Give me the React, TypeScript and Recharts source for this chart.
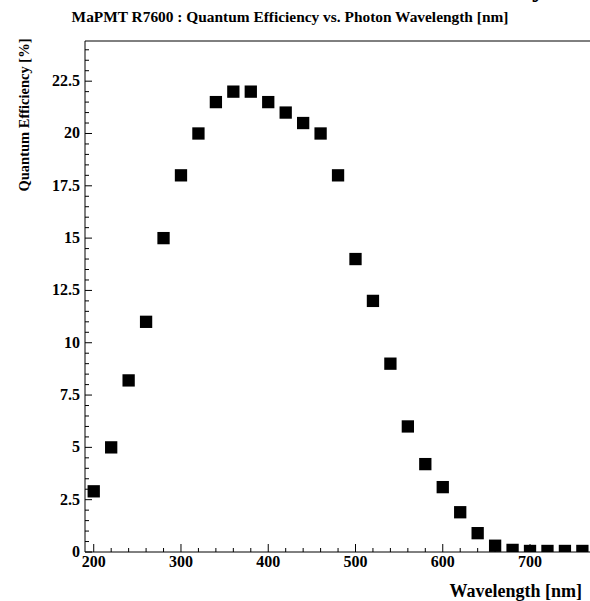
import { ScatterChart, Scatter, XAxis, YAxis, ReferenceLine } from "recharts";

// MaPMT R7600 quantum efficiency
const wavelengths = [
  200, 220, 240, 260, 280, 300, 320, 340, 360, 380, 400, 420, 440, 460, 480,
  500, 520, 540, 560, 580, 600, 620, 640, 660, 680, 700, 720, 740, 760,
];
const efficiency = [
  2.9, 5, 8.2, 11, 15, 18, 20, 21.5, 22, 22, 21.5, 21, 20.5, 20, 18,
  14, 12, 9, 6, 4.2, 3.1, 1.9, 0.9, 0.3, 0.1, 0.05, 0.05, 0.05, 0.05,
];

const xMajor = [200, 300, 400, 500, 600, 700];
const yMajor = [0, 2.5, 5, 7.5, 10, 12.5, 15, 17.5, 20, 22.5];
const xDomain: [number, number] = [190, 810];
const yDomain: [number, number] = [0, 24.42];

// ROOT-style minor ticks (only the visible part of the x range)
const xTicks = Array.from({ length: 30 }, (_, i) => 200 + i * 20);
const yTicks = Array.from({ length: 49 }, (_, i) => i * 0.5);

const data = wavelengths.map((w, i) => ({ w, qe: efficiency[i] }));

const FONT = "'Liberation Serif', 'Times New Roman', serif";
const MARK = 12.3;

if (typeof document !== "undefined") document.body.style.margin = "0";

function YTick(props: any) {
  const { x, y, payload } = props;
  const major = yMajor.includes(payload.value);
  return (
    <g>
      <line x1={x} x2={x + (major ? 7 : 4)} y1={y} y2={y} stroke="#000" />
      {major && (
        <text x={x - 5} y={y + 5} textAnchor="end" fontFamily={FONT} fontWeight="bold" fontSize={16} fill="#000">
          {payload.value}
        </text>
      )}
    </g>
  );
}

function XTick(props: any) {
  const { x, y, payload } = props;
  const major = xMajor.includes(payload.value);
  return (
    <g>
      <line x1={x} x2={x} y1={y} y2={y - (major ? 8 : 4)} stroke="#000" />
      {major && (
        <text x={x} y={y + 15} textAnchor="middle" fontFamily={FONT} fontWeight="bold" fontSize={16} fill="#000">
          {payload.value}
        </text>
      )}
    </g>
  );
}

function SquareMark(props: any) {
  const { cx, cy } = props;
  return <rect x={cx - MARK / 2} y={cy - MARK / 2} width={MARK} height={MARK} fill="#000" />;
}

export default function App() {
  return (
    <div style={{ position: "relative", width: 590, height: 601, overflow: "hidden", background: "#fff" }}>
      <ScatterChart width={640} height={601} margin={{ top: 41, left: 84, right: 14, bottom: 48 }}>
        <XAxis
          type="number"
          dataKey="w"
          domain={xDomain}
          ticks={xTicks}
          interval={0}
          height={1}
          tickSize={0}
          tickMargin={0}
          tickLine={false}
          tick={XTick}
          axisLine={{ stroke: "#000" }}
        />
        <YAxis
          type="number"
          dataKey="qe"
          domain={yDomain}
          allowDataOverflow
          ticks={yTicks}
          interval={0}
          width={1}
          tickSize={0}
          tickMargin={0}
          tickLine={false}
          tick={YTick}
          axisLine={{ stroke: "#000" }}
        />
        <ReferenceLine y={yDomain[1]} stroke="#000" />
        <Scatter data={data} shape={SquareMark} fill="#000" isAnimationActive={false} />
      </ScatterChart>
      <svg width={590} height={601} style={{ position: "absolute", left: 0, top: 0, pointerEvents: "none" }}>
        <text x={532} y={-4} fontFamily={FONT} fontWeight="bold" fontSize={28} fill="#000">y</text>
        <text x={290} y={22} textAnchor="middle" fontFamily={FONT} fontWeight="bold" fontSize={15.4} fill="#000">
          MaPMT R7600 : Quantum Efficiency vs. Photon Wavelength [nm]
        </text>
        <text
          x={29}
          y={115}
          transform="rotate(-90 29 115)"
          textAnchor="middle"
          fontFamily={FONT}
          fontWeight="bold"
          fontSize={14.5}
          fill="#000"
        >
          Quantum Efficiency [%]
        </text>
        <text x={582} y={597} textAnchor="end" fontFamily={FONT} fontWeight="bold" fontSize={18} fill="#000">
          Wavelength [nm]
        </text>
      </svg>
    </div>
  );
}
